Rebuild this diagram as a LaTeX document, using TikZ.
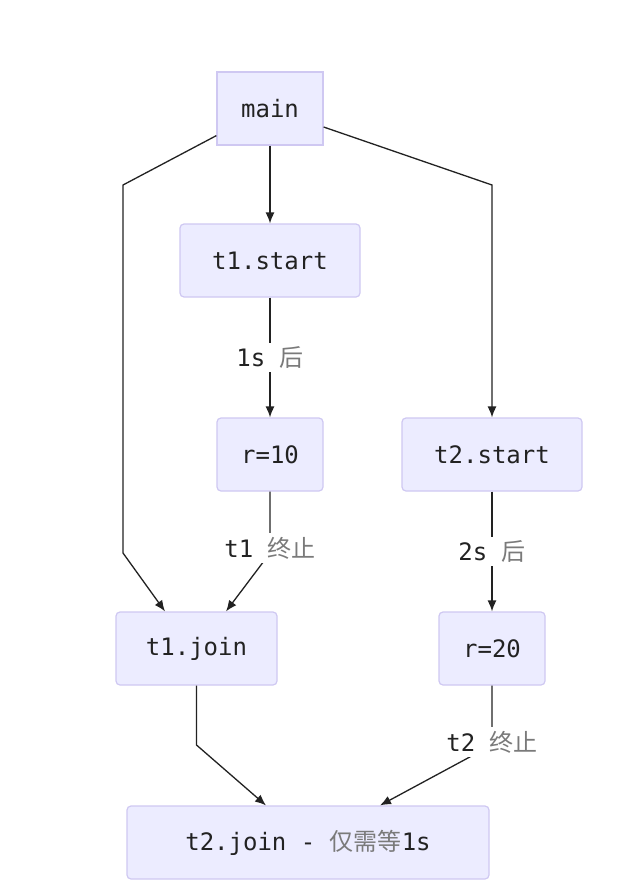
\documentclass[tikz,border=0pt]{standalone}
\usepackage{fontspec}
\setmonofont{DejaVu Sans Mono}
\newfontfamily\cjkfont{Noto Sans CJK SC}
\usetikzlibrary{arrows.meta}
\definecolor{boxfill}{HTML}{ECECFF}
\definecolor{boxline}{HTML}{CFC8F2}
\definecolor{ink}{HTML}{222222}
\definecolor{zhgray}{HTML}{7A7A7A}
\newcommand\zh[1]{{\cjkfont\mdseries\color{zhgray}#1}}
\begin{document}
\begin{tikzpicture}[x=1pt,y=-1pt,
  every node/.style={font=\ttfamily\fontsize{24}{28}\selectfont, text=ink},
  box/.style={draw=boxline, line width=1.2pt, fill=boxfill, rounded corners=4pt,
              minimum height=73pt, inner sep=0pt},
  edgelabel/.style={fill=white, inner xsep=1pt, inner ysep=4pt},
  arr/.style={draw=ink, line width=1.3pt, -{Latex[length=11pt,width=9pt]}}]
\useasboundingbox (0,0) rectangle (616,894);
\fill[white] (0,0) rectangle (616,894);

% nodes
\node[box, rounded corners=0pt, minimum width=106pt] (main) at (270,108.5) {main};
\node[box, minimum width=180pt] (t1s) at (270,260.5) {t1.start};
\node[box, minimum width=106pt] (r10) at (270,454.5) {r=10};
\node[box, minimum width=180pt] (t2s) at (492,454.5) {t2.start};
\node[box, minimum width=161pt] (t1j) at (196.5,648.5) {t1.join};
\node[box, minimum width=106pt] (r20) at (492,648.5) {r=20};
\node[box, minimum width=362pt] (t2j) at (308,842.5) {t2.join - \zh{仅需等}1s};

% bend points
\coordinate (la) at (123,185);
\coordinate (lb) at (123,553);
\coordinate (ra) at (492,185);
\coordinate (m1) at (270,553);
\coordinate (m2) at (196.5,745);
\coordinate (m3) at (492,745);

% connectors
\draw[arr] (main) -- (t1s);
\draw[arr] ([yshift=10pt]main.south west) -- (la) -- (lb) -- ([xshift=-31.5pt]t1j.north);
\draw[arr] ([yshift=-18.5pt]main.east) -- (ra) -- (t2s.north);
\draw[arr] (t1s) -- node[edgelabel] (l1) {1s \zh{后}} (r10);
\draw[arr] (r10.south) -- (m1) -- ([xshift=29.5pt]t1j.north);
\node[edgelabel] (l2) at (270,548) {t1 \zh{终止}};
\draw[arr] (t2s) -- node[edgelabel] (l3) {2s \zh{后}} (r20);
\draw[arr] (t1j.south) -- (m2) -- ([xshift=-42pt]t2j.north);
\draw[arr] (r20.south) -- (m3) -- ([xshift=72pt]t2j.north);
\node[edgelabel] (l4) at (492,742) {t2 \zh{终止}};
\end{tikzpicture}
\end{document}
